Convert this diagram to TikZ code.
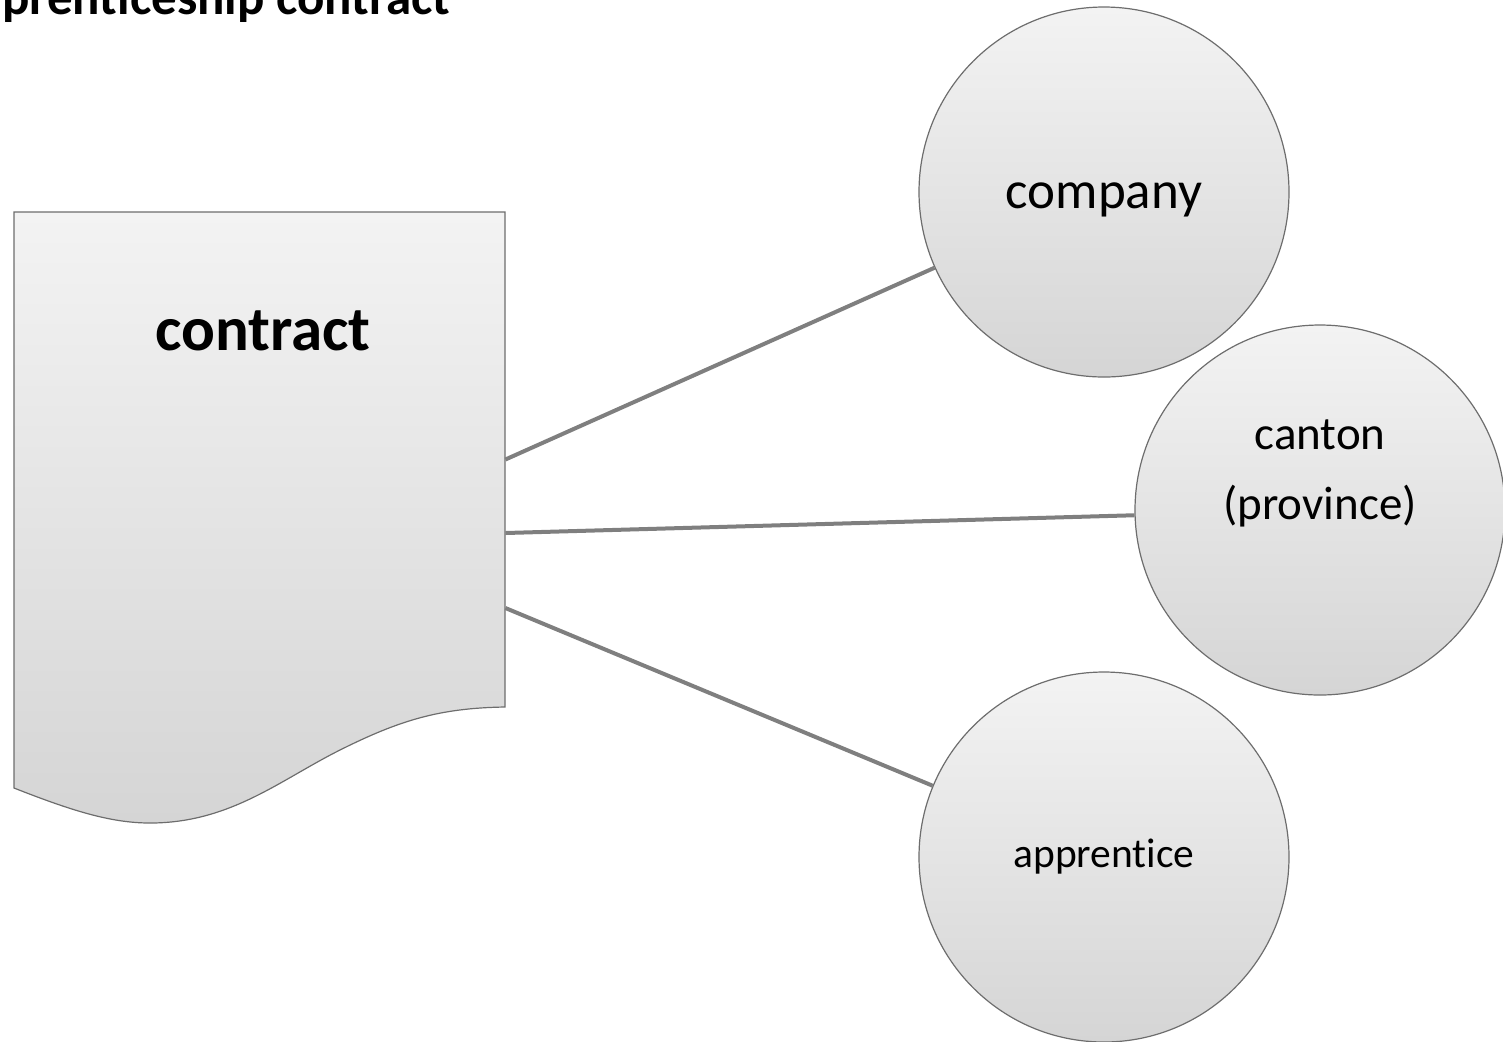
\documentclass[tikz,border=0pt]{standalone}
\usepackage{fontspec}
\setmainfont{Carlito}[Ligatures=NoCommon]
\usetikzlibrary{positioning,calc}
\tikzset{>=latex}

\definecolor{lineGrey}{HTML}{7F7F7F}
\definecolor{edgeGrey}{HTML}{6D6D6D}
\definecolor{fillTop}{HTML}{F3F3F3}
\definecolor{fillBottom}{HTML}{D5D5D5}

\tikzset{
    bubble/.style={circle,minimum size=185pt,inner sep=0pt,align=center,
        draw=edgeGrey,line width=0.6pt,top color=fillTop,bottom color=fillBottom},
    connector/.style={draw=lineGrey,line width=2pt}
}

\begin{document}
\begin{tikzpicture}[x=0.5pt,y=-0.5pt]

    \useasboundingbox (0,0) rectangle (1503,1041);

    \def\xPage{259.5}
    \def\yPage{459.5}
    \def\xBubbleLeft{1104}
    \def\xBubbleRight{1320}
    \def\yCompany{192}
    \def\yCanton{510}
    \def\yApprentice{857}

    \def\widthPage{245.5pt}
    \def\heightPage{247.5pt}

    % title, cut by the top of the page
    \node
        [anchor=base west,inner sep=0pt,font=\fontsize{25.5}{30}\selectfont\bfseries]
        at (2,14)
        (title) {prenticeship contract};

    % contract sheet with wavy bottom
    \shade[top color=fillTop,bottom color=fillBottom,draw=edgeGrey,line width=0.6pt]
        (14,212) -- (505,212) -- (505,707)
        .. controls (440,708) and (400,720) .. (340,750)
        .. controls (280,780) and (230,823) .. (150,823)
        .. controls (110,823) and (70,810) .. (14,788) -- cycle;
    \node
        [minimum width=\widthPage,minimum height=\heightPage,inner sep=0pt]
        at (\xPage,\yPage)
        (page) {};
    \node
        [anchor=base,font=\fontsize{31.5}{36}\selectfont\bfseries]
        at (263,350)
        (contract) {contract};

    \node
        [bubble,text height=22pt,text depth=6pt,font=\fontsize{26.5}{32}\selectfont]
        at (\xBubbleLeft,\yCompany)
        (company) {company};
    \node
        [bubble,label={[align=center,yshift=18.5pt,font=\fontsize{23.5}{35}\selectfont]center:canton\\(province)}]
        at (\xBubbleRight,\yCanton)
        (canton) {};
    \node
        [bubble,font=\fontsize{20.75}{25}\selectfont]
        at (\xBubbleLeft,\yApprentice)
        (apprentice) {apprentice};

    \draw[connector] (page.east) -- (company);
    \draw[connector] ([yshift=-36.75pt]page.east) -- (canton);
    \draw[connector] ([yshift=-74.25pt]page.east) -- (apprentice);

\end{tikzpicture}
\end{document}
